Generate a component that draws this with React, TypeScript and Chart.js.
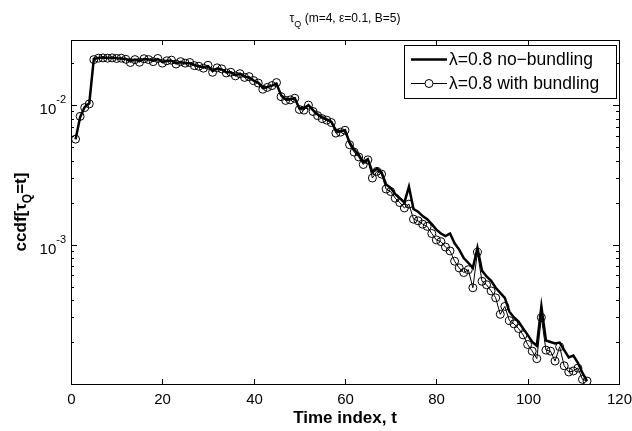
import React, { useEffect, useRef } from 'react';
import { Chart, registerables } from 'chart.js';

Chart.register(...registerables);

// Time index t = 1..113
const timeIndex: number[] = Array.from({ length: 113 }, (_, i) => i + 1);

// ccdf, lambda=0.8 no-bundling (thick line)
const noBundling: number[] = [
  5.7e-3, 8.2e-3, 9.7e-3, 1.03e-2, 2.15e-2, 2.18e-2, 2.2e-2, 2.18e-2, 2.19e-2, 2.17e-2,
  2.16e-2, 2.14e-2, 2.08e-2, 2.12e-2, 2.08e-2, 2.14e-2, 2.12e-2, 2.08e-2, 2.14e-2, 2.04e-2,
  2.08e-2, 2.08e-2, 2.0e-2, 2.04e-2, 2.0e-2, 2.0e-2, 1.94e-2, 1.9e-2, 1.86e-2, 1.9e-2,
  1.76e-2, 1.83e-2, 1.8e-2, 1.72e-2, 1.72e-2, 1.64e-2, 1.68e-2, 1.6e-2, 1.58e-2, 1.5e-2,
  1.45e-2, 1.33e-2, 1.35e-2, 1.38e-2, 1.42e-2, 1.18e-2, 1.1e-2, 1.1e-2, 1.12e-2, 9.5e-3,
  9.5e-3, 1.0e-2, 9.2e-3, 8.6e-3, 8.2e-3, 7.9e-3, 7.6e-3, 6.6e-3, 6.5e-3, 6.6e-3,
  5.4e-3, 4.8e-3, 4.4e-3, 3.9e-3, 4.1e-3, 3.3e-3, 3.5e-3, 3.3e-3, 2.7e-3, 2.55e-3,
  2.3e-3, 2.15e-3, 2.0e-3, 2.6e-3, 1.8e-3, 1.72e-3, 1.6e-3, 1.52e-3, 1.4e-3, 1.28e-3,
  1.2e-3, 1.15e-3, 1.2e-3, 1.02e-3, 9.2e-4, 8.0e-4, 7.4e-4, 6.8e-4, 9.5e-4, 6.5e-4,
  5.9e-4, 5.5e-4, 4.9e-4, 4.5e-4, 4.15e-4, 3.3e-4, 3.0e-4, 2.8e-4, 2.5e-4, 2.25e-4,
  2.0e-4, 1.88e-4, 3.6e-4, 2.05e-4, 2.0e-4, 1.95e-4, 1.98e-4, 1.75e-4, 1.55e-4, 1.6e-4,
  1.42e-4, 1.2e-4, 1.05e-4,
];

// ccdf, lambda=0.8 with bundling (thin line with circles)
const withBundling: number[] = [
  5.7e-3, 8.3e-3, 9.6e-3, 1.02e-2, 2.12e-2, 2.17e-2, 2.18e-2, 2.17e-2, 2.18e-2, 2.16e-2,
  2.17e-2, 2.13e-2, 2.02e-2, 2.12e-2, 2.03e-2, 2.15e-2, 2.12e-2, 2.05e-2, 2.16e-2, 2.0e-2,
  2.08e-2, 2.1e-2, 1.97e-2, 2.05e-2, 2.0e-2, 2.02e-2, 1.92e-2, 1.9e-2, 1.84e-2, 1.93e-2,
  1.72e-2, 1.85e-2, 1.82e-2, 1.7e-2, 1.72e-2, 1.62e-2, 1.68e-2, 1.58e-2, 1.6e-2, 1.5e-2,
  1.44e-2, 1.3e-2, 1.34e-2, 1.38e-2, 1.45e-2, 1.15e-2, 1.08e-2, 1.09e-2, 1.12e-2, 9.3e-3,
  9.2e-3, 1.0e-2, 9.0e-3, 8.4e-3, 8.0e-3, 7.8e-3, 7.5e-3, 6.3e-3, 6.4e-3, 6.6e-3,
  5.2e-3, 4.6e-3, 4.25e-3, 3.75e-3, 4.05e-3, 3.0e-3, 3.35e-3, 3.2e-3, 2.5e-3, 2.4e-3,
  2.15e-3, 2.0e-3, 1.83e-3, 1.95e-3, 1.52e-3, 1.48e-3, 1.4e-3, 1.35e-3, 1.2e-3, 1.08e-3,
  1.05e-3, 9.6e-4, 9.0e-4, 7.6e-4, 6.8e-4, 6.3e-4, 6.6e-4, 4.9e-4, 8.8e-4, 5.45e-4,
  5.15e-4, 4.65e-4, 4.15e-4, 3.16e-4, 3.6e-4, 2.85e-4, 2.7e-4, 2.5e-4, 2.25e-4, 1.92e-4,
  1.72e-4, 1.52e-4, 3.0e-4, 1.75e-4, 1.72e-4, 1.46e-4, 1.85e-4, 1.35e-4, 1.22e-4, 1.24e-4,
  1.3e-4, 1.08e-4, 1.05e-4,
];

const xTicks: number[] = [0, 20, 40, 60, 80, 100, 120];
const yMajorTicks: number[] = [1e-3, 1e-2];
const yMajorExponents: string[] = ['-3', '-2'];
const yMinorTicks: number[] = [
  2e-4, 3e-4, 4e-4, 5e-4, 6e-4, 7e-4, 8e-4, 9e-4,
  2e-3, 3e-3, 4e-3, 5e-3, 6e-3, 7e-3, 8e-3, 9e-3,
  2e-2,
];
const legendLabels: string[] = ['λ=0.8 no−bundling', 'λ=0.8 with bundling'];

const FONT = '"Liberation Sans", Arial, Helvetica, sans-serif';

const decorPlugin = {
  id: 'matlabDecor',
  afterDraw(chart: any) {
    const ctx: CanvasRenderingContext2D = chart.ctx;
    const { left, right, top, bottom } = chart.chartArea;
    const xs = chart.scales.x;
    const ys = chart.scales.y;
    ctx.save();
    ctx.strokeStyle = '#000';
    ctx.fillStyle = '#000';
    ctx.lineWidth = 1;

    // frame
    ctx.strokeRect(Math.round(left) + 0.5, Math.round(top) + 0.5, Math.round(right - left), Math.round(bottom - top));

    // x ticks (inside, top and bottom)
    ctx.font = `15px ${FONT}`;
    ctx.textAlign = 'center';
    ctx.textBaseline = 'alphabetic';
    xTicks.forEach((v) => {
      const px = Math.round(xs.getPixelForValue(v)) + 0.5;
      ctx.beginPath();
      ctx.moveTo(px, bottom);
      ctx.lineTo(px, bottom - 5);
      ctx.moveTo(px, top);
      ctx.lineTo(px, top + 5);
      ctx.stroke();
      ctx.fillText(String(v), px, bottom + 20);
    });

    // y ticks
    yMajorTicks.forEach((v, i) => {
      const py = Math.round(ys.getPixelForValue(v)) + 0.5;
      ctx.beginPath();
      ctx.moveTo(left, py);
      ctx.lineTo(left + 6, py);
      ctx.moveTo(right, py);
      ctx.lineTo(right - 6, py);
      ctx.stroke();
      ctx.textAlign = 'right';
      ctx.textBaseline = 'alphabetic';
      ctx.font = `11px ${FONT}`;
      const expW = ctx.measureText(yMajorExponents[i]).width;
      ctx.fillText(yMajorExponents[i], left - 5, py - 3);
      ctx.font = `15px ${FONT}`;
      ctx.fillText('10', left - 5 - expW, py + 8);
    });
    yMinorTicks.forEach((v) => {
      const py = Math.round(ys.getPixelForValue(v)) + 0.5;
      ctx.beginPath();
      ctx.moveTo(left, py);
      ctx.lineTo(left + 3, py);
      ctx.moveTo(right, py);
      ctx.lineTo(right - 3, py);
      ctx.stroke();
    });

    // title: tau_Q (m=4, eps=0.1, B=5)
    const cx = (left + right) / 2;
    ctx.textAlign = 'left';
    ctx.textBaseline = 'alphabetic';
    const t1 = 'τ';
    const t3 = ' (m=4, ε=0.1, B=5)';
    ctx.font = `9px ${FONT}`;
    const wQ = ctx.measureText('Q').width;
    ctx.font = `12px ${FONT}`;
    const w1 = ctx.measureText(t1).width;
    const w3 = ctx.measureText(t3).width;
    let tx = cx - (w1 + wQ + w3) / 2;
    ctx.fillText(t1, tx, 22);
    tx += w1;
    ctx.font = `9px ${FONT}`;
    ctx.fillText('Q', tx, 27);
    tx += wQ;
    ctx.font = `12px ${FONT}`;
    ctx.fillText(t3, tx, 22);

    // x axis label
    ctx.font = `bold 17px ${FONT}`;
    ctx.textAlign = 'center';
    ctx.fillText('Time index, t', cx, 423);

    // y axis label: ccdf[tau_Q=t]
    ctx.save();
    const cy = (top + bottom) / 2;
    ctx.translate(26, cy);
    ctx.rotate(-Math.PI / 2);
    ctx.textAlign = 'left';
    const a = 'ccdf[τ';
    const b = '=t]';
    ctx.font = `bold 12px ${FONT}`;
    const wq = ctx.measureText('Q').width;
    ctx.font = `bold 17px ${FONT}`;
    const wa = ctx.measureText(a).width;
    const wb = ctx.measureText(b).width;
    let yx = -(wa + wq + wb) / 2;
    ctx.fillText(a, yx, 0);
    yx += wa;
    ctx.font = `bold 12px ${FONT}`;
    ctx.fillText('Q', yx, 5);
    yx += wq;
    ctx.font = `bold 17px ${FONT}`;
    ctx.fillText(b, yx, 0);
    ctx.restore();

    // legend
    const lx = 404, ly = 45, lw = 212, lh = 53;
    ctx.fillStyle = '#fff';
    ctx.fillRect(lx, ly, lw, lh);
    ctx.strokeStyle = '#000';
    ctx.lineWidth = 1;
    ctx.strokeRect(lx + 0.5, ly + 0.5, lw, lh);
    ctx.fillStyle = '#000';
    ctx.font = `17.5px ${FONT}`;
    ctx.textAlign = 'left';
    ctx.textBaseline = 'middle';
    const rows = [59.5, 83.5];
    // row 1: thick line
    ctx.lineWidth = 2.5;
    ctx.beginPath();
    ctx.moveTo(411, rows[0]);
    ctx.lineTo(447, rows[0]);
    ctx.stroke();
    ctx.fillText(legendLabels[0], 449, rows[0] + 1);
    // row 2: thin line with circle
    ctx.lineWidth = 1;
    ctx.beginPath();
    ctx.moveTo(411, rows[1]);
    ctx.lineTo(447, rows[1]);
    ctx.stroke();
    ctx.beginPath();
    ctx.arc(429, rows[1], 4, 0, Math.PI * 2);
    ctx.fillStyle = '#fff';
    ctx.fill();
    ctx.stroke();
    ctx.fillStyle = '#000';
    ctx.fillText(legendLabels[1], 449, rows[1] + 1);

    ctx.restore();
  },
};

export default function App() {
  const canvasRef = useRef<HTMLCanvasElement | null>(null);

  useEffect(() => {
    document.body.style.margin = '0';
    const canvas = canvasRef.current;
    if (!canvas) return;
    const chart = new Chart(canvas, {
      type: 'line',
      data: {
        datasets: [
          {
            label: legendLabels[0],
            data: timeIndex.map((t, i) => ({ x: t, y: noBundling[i] })),
            borderColor: '#000',
            borderWidth: 2.5,
            pointRadius: 0,
            tension: 0,
            fill: false,
          },
          {
            label: legendLabels[1],
            data: timeIndex.map((t, i) => ({ x: t, y: withBundling[i] })),
            borderColor: '#000',
            borderWidth: 1,
            pointRadius: 4,
            pointBorderWidth: 1,
            pointBorderColor: '#000',
            pointBackgroundColor: 'rgba(0,0,0,0)',
            tension: 0,
            fill: false,
          },
        ],
      },
      options: {
        animation: false,
        responsive: false,
        devicePixelRatio: 1,
        layout: { padding: { top: 40, right: 13, left: 0, bottom: 0 } },
        plugins: {
          legend: { display: false },
          title: { display: false },
          tooltip: { enabled: false },
        },
        scales: {
          x: {
            type: 'linear',
            min: 0,
            max: 120,
            grid: { display: false },
            border: { display: false },
            ticks: { display: false },
            afterFit: (s: any) => { s.height = 47; },
          },
          y: {
            type: 'logarithmic',
            min: 1e-4,
            max: 0.0293,
            grid: { display: false },
            border: { display: false },
            ticks: { display: false },
            afterFit: (s: any) => { s.width = 71; },
          },
        },
      },
      plugins: [decorPlugin],
    } as any);
    return () => chart.destroy();
  }, []);

  return (
    <div style={{ position: 'absolute', left: 0, top: 0, width: 632, height: 431, background: '#fff' }}>
      <canvas ref={canvasRef} width={632} height={431} style={{ width: 632, height: 431 }} />
    </div>
  );
}
